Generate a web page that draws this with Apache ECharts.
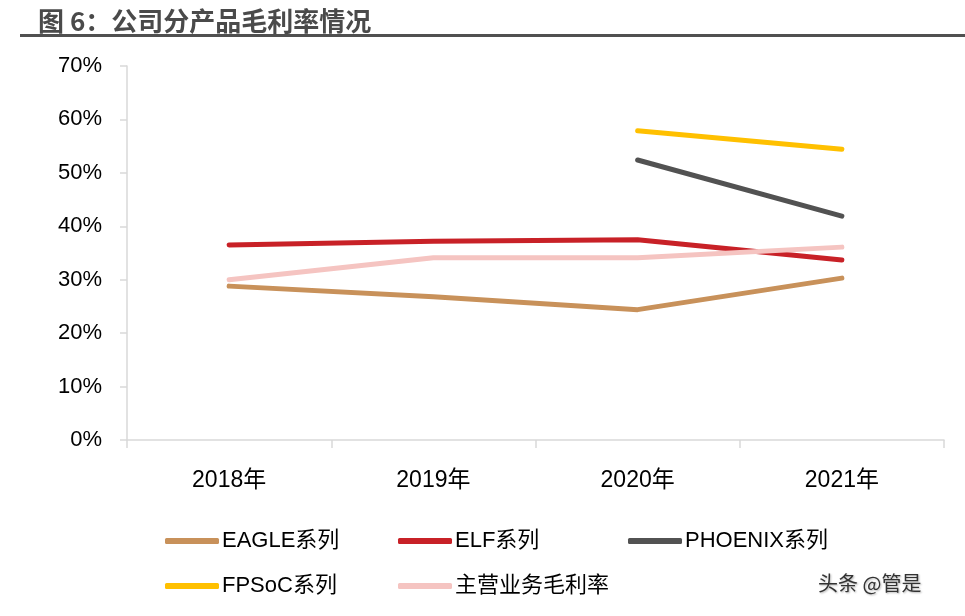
<!DOCTYPE html>
<html>
<head>
<meta charset="utf-8">
<script src="https://cdn.jsdelivr.net/npm/echarts@6/dist/echarts.min.js"></script>
<style>
html,body{margin:0;padding:0;background:#fff;}
#c{width:965px;height:616px;}
</style>
</head>
<body>
<div id="c"></div>
<script>
var categories = ['2018年', '2019年', '2020年', '2021年'];
var eagle = [28.8, 26.8, 24.4, 30.3];
var elf = [36.5, 37.2, 37.5, 33.7];
var phoenix = [null, null, 52.4, 41.9];
var fpsoc = [null, null, 57.9, 54.4];
var mainBiz = [30.0, 34.1, 34.1, 36.1];
var seriesNames = ['EAGLE系列', 'ELF系列', 'PHOENIX系列', 'FPSoC系列', '主营业务毛利率'];
var yTicks = [0, 10, 20, 30, 40, 50, 60, 70];

var colors = ['#C8915A', '#C82127', '#525252', '#FFC000', '#F5C4C1'];
var dataList = [eagle, elf, phoenix, fpsoc, mainBiz];
var font = '"Liberation Sans", "Noto Sans CJK SC", sans-serif';

var chart = echarts.init(document.getElementById('c'));
var legendPos = [[160, 525], [393, 525], [623, 525], [160, 570], [393, 570]];
var legends = seriesNames.map(function (n, i) {
  return {
    data: [n], left: legendPos[i][0], top: legendPos[i][1],
    icon: 'roundRect', itemWidth: 54, itemHeight: 6, itemGap: 0,
    textStyle: { fontSize: 22, color: '#000', fontFamily: font, padding: [0, 0, 0, -2] },
    selectedMode: false
  };
});
chart.setOption({
  animation: false,
  color: colors,
  title: {
    text: '图 6：公司分产品毛利率情况', left: 33, top: 3,
    textStyle: { fontSize: 26, fontWeight: 'bold', color: '#4a4a4a', fontFamily: '"Noto Sans CJK SC", sans-serif' }
  },
  graphic: [
    { type: 'rect', shape: { x: 20, y: 34, width: 945, height: 3 }, style: { fill: '#505050' } },
    { type: 'text', left: 818, top: 573, style: { text: '头条 @管是', fontSize: 20, fill: '#333', fontFamily: '"Noto Sans CJK SC", sans-serif', textShadowColor: 'rgba(0,0,0,0.3)', textShadowBlur: 2, textShadowOffsetX: 1, textShadowOffsetY: 1 } }
  ],
  legend: legends,
  grid: { left: 127, right: 21, top: 66, bottom: 176 },
  xAxis: {
    type: 'category', data: categories, boundaryGap: true,
    axisLine: { lineStyle: { color: '#d9d9d9', width: 1.5 } },
    axisTick: { show: true, length: 8, lineStyle: { color: '#d9d9d9', width: 1.5 } },
    axisLabel: { fontSize: 23, color: '#000', margin: 29, fontFamily: font }
  },
  yAxis: {
    type: 'value', min: 0, max: 70, interval: 10,
    axisLine: { show: true, lineStyle: { color: '#d9d9d9', width: 1.5 } },
    axisTick: { show: true, length: 7, lineStyle: { color: '#d9d9d9', width: 1.5 } },
    splitLine: { show: false },
    axisLabel: { fontSize: 22, color: '#000', margin: 25, fontFamily: font, formatter: '{value}%' }
  },
  series: dataList.map(function (d, i) {
    return {
      name: seriesNames[i], type: 'line', data: d, symbol: 'none', connectNulls: false,
      lineStyle: { width: 5, color: colors[i], cap: 'round', join: 'round' },
      itemStyle: { color: colors[i] }
    };
  })
});
</script>
</body>
</html>
